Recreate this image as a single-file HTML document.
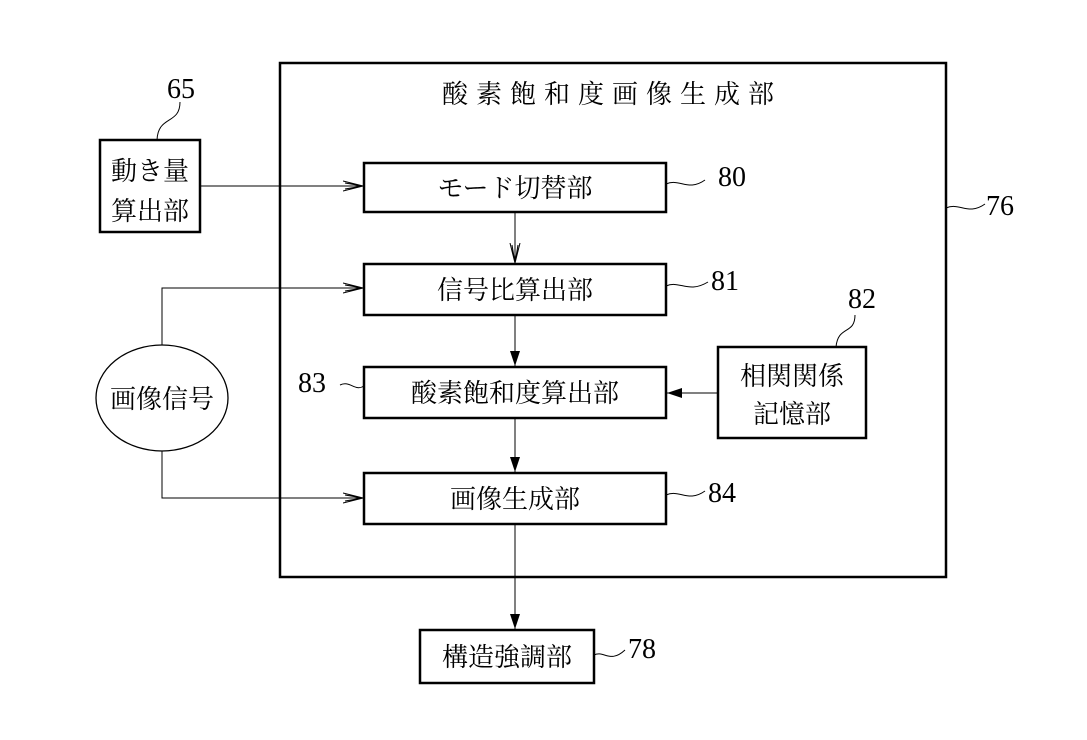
<!DOCTYPE html>
<html><head><meta charset="utf-8"><style>
html,body{margin:0;padding:0;background:#fff;}
svg{display:block;}
text{font-family:"Liberation Serif","Noto Serif CJK SC","Noto Sans CJK JP",serif;fill:#000;}
</style></head><body>
<svg width="1087" height="740" viewBox="0 0 1087 740" xmlns="http://www.w3.org/2000/svg">
<defs>
<marker id="open" markerWidth="22" markerHeight="12" refX="20" refY="6" orient="auto" markerUnits="userSpaceOnUse">
<path d="M0,1 L20,6 L0,11 M2,3 L20,6 L2,9" fill="none" stroke="#000" stroke-width="1"/></marker>
<marker id="fill" markerWidth="16" markerHeight="10" refX="15" refY="5" orient="auto" markerUnits="userSpaceOnUse">
<path d="M0,0 L15,5 L0,10 Z" fill="#000"/></marker>
</defs>
<g fill="none" stroke="#000">
<rect x="280" y="63" width="666" height="514" stroke-width="2.5"/>
<rect x="100" y="140" width="100" height="92" stroke-width="2.5"/>
<rect x="364" y="163" width="302" height="49" stroke-width="2.5"/>
<rect x="364" y="264" width="302" height="51" stroke-width="2.5"/>
<rect x="364" y="367" width="302" height="51" stroke-width="2.5"/>
<rect x="364" y="473" width="302" height="51" stroke-width="2.5"/>
<rect x="718" y="347" width="148" height="91" stroke-width="2.5"/>
<rect x="420" y="630" width="174" height="53" stroke-width="2.5"/>
<ellipse cx="162" cy="398" rx="66" ry="53" stroke-width="1.3"/>
<g stroke-width="1">
<line x1="200" y1="186" x2="363" y2="186" marker-end="url(#open)"/>
<line x1="515" y1="212" x2="515" y2="263" marker-end="url(#open)"/>
<polyline points="162,345 162,288 363,288" marker-end="url(#open)"/>
<polyline points="162,451 162,498 363,498" marker-end="url(#open)"/>
<line x1="515" y1="315" x2="515" y2="366" marker-end="url(#fill)"/>
<line x1="515" y1="418" x2="515" y2="472" marker-end="url(#fill)"/>
<line x1="718" y1="393" x2="667" y2="393" marker-end="url(#fill)"/>
<line x1="515" y1="524" x2="515" y2="629" marker-end="url(#fill)"/>
<path d="M180,102 C180,125 158,115 157,140"/>
<path d="M666,184 C680,178 688,192 705,180"/>
<path d="M666,286 C680,280 688,294 708,282"/>
<path d="M340,385 C350,380 355,392 364,386"/>
<path d="M666,495 C680,489 688,503 705,491"/>
<path d="M946,208 C960,202 968,216 985,204"/>
<path d="M855,315 C855,335 838,325 836,347"/>
<path d="M594,655 C604,650 610,664 625,650"/>
</g>
</g>
<g font-size="26">
<text x="612" y="103" text-anchor="middle" letter-spacing="8">酸素飽和度画像生成部</text>
<text x="150" y="180" text-anchor="middle">動き量</text>
<text x="150" y="220" text-anchor="middle">算出部</text>
<text x="515" y="197" text-anchor="middle">モード切替部</text>
<text x="515" y="299" text-anchor="middle">信号比算出部</text>
<text x="515" y="402" text-anchor="middle">酸素飽和度算出部</text>
<text x="515" y="508" text-anchor="middle">画像生成部</text>
<text x="792" y="385" text-anchor="middle">相関関係</text>
<text x="792" y="423" text-anchor="middle">記憶部</text>
<text x="162" y="408" text-anchor="middle">画像信号</text>
<text x="507" y="666" text-anchor="middle">構造強調部</text>
</g>
<g font-size="28">
<text x="181" y="98" text-anchor="middle">65</text>
<text x="718" y="186">80</text>
<text x="711" y="290">81</text>
<text x="298" y="392">83</text>
<text x="708" y="502">84</text>
<text x="848" y="308">82</text>
<text x="986" y="215">76</text>
<text x="628" y="658">78</text>
</g>
</svg>
</body></html>
